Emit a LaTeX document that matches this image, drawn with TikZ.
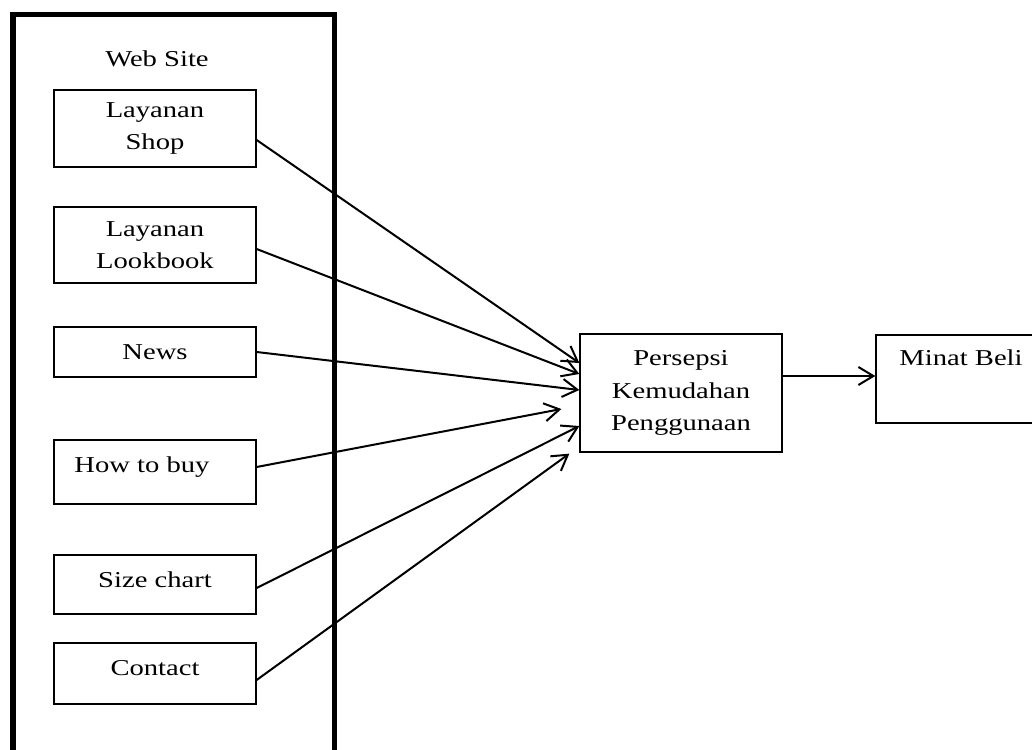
\documentclass[tikz,border=0pt]{standalone}
\usepackage{fontspec}
\setmainfont{Liberation Serif}[FakeStretch=1.26]
\usetikzlibrary{arrows.meta}
\begin{document}
\begin{tikzpicture}[x=1pt,y=-1pt,
  font=\fontsize{22.7}{32.5}\selectfont,
  box/.style={draw,line width=1.3pt,inner sep=0pt,align=center,minimum width=202pt},
  txt/.style={inner sep=0pt,anchor=base},
  conn/.style={line width=2pt,-{Straight Barb[length=15pt,width=18pt,line width=2pt]}}]
\useasboundingbox (0,0) rectangle (1032,749);
% outer web site frame (cut off at bottom)
\draw[line width=5.5pt,line join=miter] (13,760) -- (13,14.5) -- (334.5,14.5) -- (334.5,760);
\node[txt] (web) at (157,67) {Web Site};
% inner boxes
\node[box,minimum height=77pt] (shop) at (155,128.5) {Layanan\\Shop};
\node[box,minimum height=76pt] (look) at (155,245) {Layanan\\Lookbook};
\node[box,minimum height=50pt] (news) at (155,352) {News};
\node[box,minimum height=64pt] (how) at (155,472) {};
\node[txt] (howt) at (142,472) {How to buy};
\node[box,minimum height=59pt] (size) at (155,584.5) {};
\node[txt] (sizet) at (155,587) {Size chart};
\node[box,minimum height=61pt] (cont) at (155,673.5) {};
\node[txt] (contt) at (155,675) {Contact};
% central box
\node[box,minimum height=118pt] (pers) at (681,393) {Persepsi\\Kemudahan\\Penggunaan};
% right box (cut off at right)
\node[box,minimum width=170pt,minimum height=88pt] (minat) at (961,379) {};
\node[txt] (minatt) at (961,365) {Minat Beli};
% connectors
\draw[conn] ([yshift=-11.5pt]shop.east) -- ([yshift=30pt]pers.west);
\draw[conn] ([yshift=-4pt]look.east) -- ([yshift=19pt]pers.west);
\draw[conn] (news.east) -- ([yshift=3pt]pers.west);
\draw[conn] ([yshift=5pt]how.east) -- ([xshift=-18pt,yshift=-16pt]pers.west);
\draw[conn] ([yshift=-3.5pt]size.east) -- ([yshift=-33pt]pers.west);
\draw[conn] ([yshift=-6.5pt]cont.east) -- ([xshift=-10pt,yshift=-1pt]pers.south west);
\draw[conn] ([yshift=17pt]pers.east) -- ([yshift=17pt]pers.east -| minat.west);
\end{tikzpicture}
\end{document}
